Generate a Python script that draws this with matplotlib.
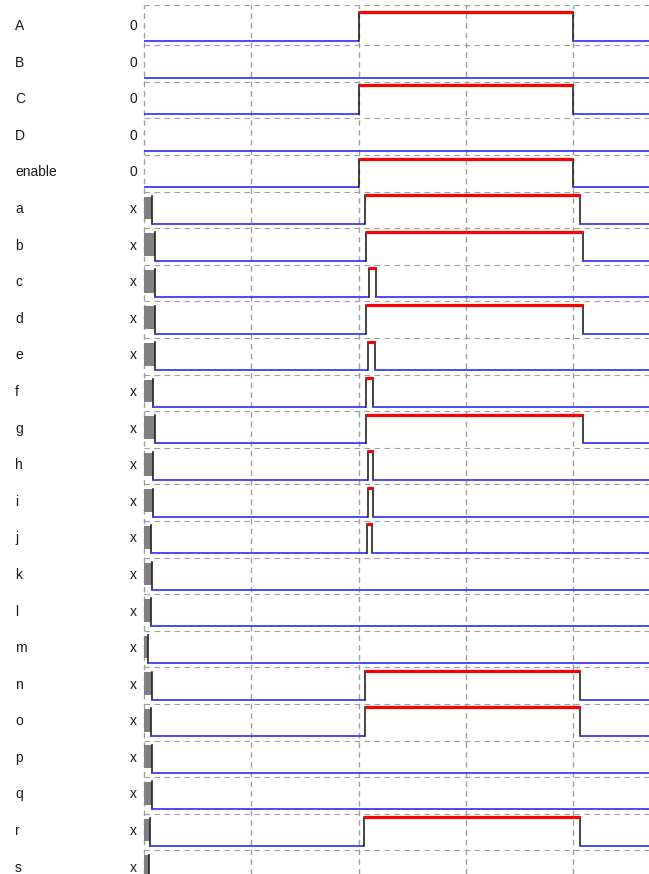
import matplotlib
matplotlib.use("Agg")
import matplotlib.pyplot as plt
from matplotlib.patches import Rectangle
from matplotlib import font_manager

# ---- data ----
names = ['A', 'B', 'C', 'D', 'enable', 'a', 'b', 'c', 'd', 'e', 'f', 'g', 'h',
         'i', 'j', 'k', 'l', 'm', 'n', 'o', 'p', 'q', 'r', 's']
init_values = ['0', '0', '0', '0', '0'] + ['x'] * 19
# end time of the unknown (x) region, 0 = none
x_end = [0, 0, 0, 0, 0,
         7.7, 10.3, 10.3, 10.3, 10.3, 8.7, 10.3, 8.7,
         8.7, 6.5, 7.5, 6.5, 4.0, 7.5, 6.8, 7.7, 7.7, 5.9, 4.6]
# high pulses (rise, fall)
pulses = [
    [(200, 400)], [], [(200, 400)], [], [(200, 400)],
    [(206, 406)], [(207, 409)], [(209.5, 216)], [(207, 409)], [(209, 215.5)],
    [(207, 213)], [(207, 409)], [(208.5, 213.5)], [(208.5, 213.5)], [(207.5, 212.5)],
    [], [], [], [(206, 406.5)], [(206, 406.5)], [], [], [(205, 406)], []
]
grid_times = [0, 100, 200, 300, 400]
t_max = 470.6

# pick a condensed face if one is installed
cond = [f.name for f in font_manager.fontManager.ttflist
        if f.stretch in ('condensed', 'semi-condensed', 'extra-condensed', 550, 600, 650, 700)
        or 'Narrow' in f.name or 'Condensed' in f.name]
text_font = (['Liberation Sans Narrow'] if 'Liberation Sans Narrow' in cond else []) + \
            ['Liberation Sans', 'DejaVu Sans']
stretch = 'normal'
size = 10
if 'Liberation Sans Narrow' in cond:
    size = 10.8

W, H = 649, 874
fig = plt.figure(figsize=(W / 100, H / 100), dpi=100)
left_px, top_px = 144, 5
ax = fig.add_axes([left_px / W, 0, 1 - left_px / W, 1 - top_px / H])
row_h = 36.59
y_top = (top_px - 8.7) / row_h
y_bot = (H - 8.7) / row_h
ax.set_xlim(0, t_max)
ax.set_ylim(y_bot, y_top)
ax.axis('off')

HIGH = 3.5 / row_h
LOW = 32.3 / row_h
blue = '#3c3cff'
red = '#ff0000'
grid_c = '#a0a0a0'

# grid
for t in grid_times:
    ax.axvline(t, color=grid_c, lw=1.0, ls=(0, (4, 3)), zorder=1, clip_on=False)
for r in range(len(names)):
    y = r if r > 0 else y_top + 0.012
    ax.plot([0, t_max], [y, y], color=grid_c, lw=0.8, ls=(0, (5, 4)), zorder=1,
            clip_on=False)

for r, name in enumerate(names):
    hi = r + HIGH
    lo = r + LOW
    ax.text(-0.2554, r + 0.585, name, transform=ax.get_yaxis_transform(),
            ha='left', va='baseline', fontsize=size, family=text_font, color='#1a1a1a')
    ax.text(-0.0218, r + 0.585, init_values[r], transform=ax.get_yaxis_transform(),
            ha='center', va='baseline', fontsize=size, family=text_font, color='#1a1a1a')
    start = x_end[r]
    if start > 0:
        ax.add_patch(Rectangle((0, hi + 0.04), start, (lo - 0.125) - (hi + 0.04),
                               facecolor='#808080', edgecolor='none', zorder=2))
        ax.plot([start, start], [hi + 0.02, lo], color='#222222', lw=1.2, zorder=3)
    cur = start
    for (rise, fall) in pulses[r]:
        ax.plot([cur, rise], [lo, lo], color=blue, lw=1.3, zorder=3, solid_capstyle='butt')
        ax.plot([rise, rise], [lo, hi], color='#111111', lw=1.1, zorder=3)
        ax.plot([rise, fall], [hi, hi], color=red, lw=2.3, zorder=4, solid_capstyle='butt')
        ax.plot([fall, fall], [hi, lo], color='#111111', lw=1.1, zorder=3)
        cur = fall
    ax.plot([cur, t_max], [lo, lo], color=blue, lw=1.3, zorder=3, solid_capstyle='butt')

fig.savefig('out.png', dpi=100)
